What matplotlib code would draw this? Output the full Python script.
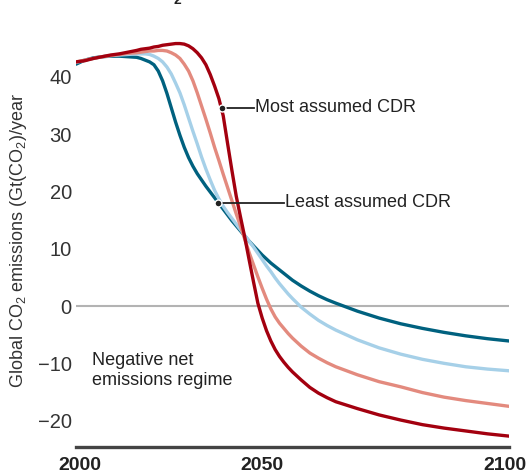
import matplotlib
matplotlib.use("Agg")
import matplotlib.pyplot as plt

plt.rcParams['font.family'] = ['Liberation Sans', 'DejaVu Sans']
plt.rcParams['mathtext.fontset'] = 'custom'
plt.rcParams['mathtext.rm'] = 'Liberation Sans'
plt.rcParams['mathtext.it'] = 'Liberation Sans:italic'

# data (Gt CO2 per year)
years = [2000, 2002, 2004, 2006, 2008, 2010, 2012, 2014,
         2015, 2016, 2017, 2018, 2019, 2020, 2021, 2022, 2023, 2024, 2025, 2026,
         2027, 2028, 2029, 2030, 2031, 2032, 2033, 2034, 2035, 2036, 2037, 2038,
         2039, 2040, 2041, 2042, 2043, 2044, 2045, 2046, 2047, 2048, 2049, 2050,
         2052, 2054, 2056, 2058, 2060, 2065, 2070, 2075, 2080, 2085, 2090, 2095, 2100]
most_cdr = [42.6, 42.8, 43.2, 43.5, 43.8, 44.0, 44.3, 44.6,
            44.8, 44.9, 45.0, 45.2, 45.3, 45.5, 45.6, 45.7, 45.8, 45.8, 45.7, 45.4,
            44.9, 44.2, 43.3, 42.1, 40.4, 38.4, 36.2, 33.2, 28.4, 23.7, 19.2, 15.5,
            11.9, 8.0, 4.2, 0.5, -2.1, -4.3, -6.1, -7.6, -8.8, -9.8, -10.7, -11.5,
            -12.9, -14.2, -15.2, -16.0, -16.7, -17.9, -19.0, -19.9, -20.7, -21.3, -21.8, -22.3, -22.7]
more_cdr = [42.6, 42.9, 43.2, 43.5, 43.7, 43.9, 44.1, 44.2,
            44.3, 44.4, 44.5, 44.5, 44.6, 44.6, 44.5, 44.2, 43.8, 43.2, 42.2, 41.0,
            39.3, 37.2, 34.9, 32.6, 30.2, 27.7, 25.4, 23.0, 20.7, 18.4, 16.1, 13.9,
            11.6, 9.3, 7.2, 5.1, 3.1, 1.2, -0.5, -1.9, -3.0, -3.9, -4.8, -5.6,
            -7.0, -8.2, -9.1, -9.9, -10.6, -12.0, -13.2, -14.1, -15.1, -15.9, -16.5, -17.0, -17.5]
less_cdr = [42.5, 42.9, 43.2, 43.5, 43.7, 43.8, 43.9, 44.0,
            44.0, 44.0, 43.9, 43.6, 43.2, 42.6, 41.7, 40.5, 38.9, 37.2, 35.1, 32.8,
            30.5, 28.3, 26.0, 23.9, 22.0, 20.2, 18.7, 17.4, 16.3, 15.3, 14.3, 13.3,
            12.3, 11.3, 10.3, 9.2, 8.1, 7.0, 6.0, 4.9, 3.9, 3.0, 2.1, 1.3,
            -0.2, -1.4, -2.5, -3.4, -4.2, -5.9, -7.3, -8.4, -9.3, -10.0, -10.6, -11.0, -11.3]
least_cdr = [42.2, 42.9, 43.3, 43.5, 43.6, 43.6, 43.5, 43.4,
             43.2, 42.9, 42.6, 42.1, 41.0, 39.3, 37.1, 34.6, 32.1, 29.8, 27.7, 25.9,
             24.4, 23.1, 22.0, 20.9, 19.9, 18.9, 17.9, 16.9, 15.9, 14.9, 14.0, 13.1,
             12.2, 11.3, 10.5, 9.7, 8.9, 8.2, 7.5, 6.9, 6.3, 5.7, 5.1, 4.5,
             3.5, 2.6, 1.8, 1.1, 0.5, -0.9, -2.1, -3.1, -3.9, -4.6, -5.2, -5.7, -6.1]
yticks = [-20, -10, 0, 10, 20, 30, 40]
xlabels = ['2000', '2050', '2100']

fig = plt.figure(figsize=(5.28, 4.75), dpi=100)
ax = fig.add_axes([76 / 528, 28 / 475, 433 / 528, 447 / 475])

ax.axhline(0, color='#b3b3b3', lw=1.5, zorder=1)
ax.plot(years, least_cdr, color='#00617f', lw=2.4, solid_capstyle='round', zorder=3)
ax.plot(years, less_cdr, color='#a6d0e8', lw=2.4, solid_capstyle='round', zorder=3)
ax.plot(years, more_cdr, color='#e38a7e', lw=2.4, solid_capstyle='round', zorder=3)
ax.plot(years, most_cdr, color='#a3000f', lw=2.4, solid_capstyle='round', zorder=4)

ax.set_xlim(2000, 2100)
ax.set_ylim(-24.6, 53.4)

for s in ['top', 'right', 'left']:
    ax.spines[s].set_visible(False)
ax.spines['bottom'].set_color('#444444')
ax.spines['bottom'].set_linewidth(2.4)

ax.set_yticks(yticks)
ax.set_yticklabels([str(v).replace('-', '\u2212') for v in yticks])
ax.tick_params(axis='y', length=0, pad=3, labelsize=14.5, labelcolor='#333333')
ax.set_xticks([2001, 2043, 2099])
ax.set_xticklabels(xlabels, fontweight='bold')
ax.tick_params(axis='x', length=0, pad=7, labelsize=14, labelcolor='#222222')

ax.set_ylabel('Global CO$_2$ emissions (Gt(CO$_2$)/year', fontsize=13, color='#333333')
ax.yaxis.set_label_coords(-47 / 433, 0.463)

# callouts
ax.plot([2033.7, 2041.0], [34.6, 34.6], color='#222222', lw=1.3, zorder=5)
ax.plot(2033.7, 34.6, 'o', ms=5, color='#222222', mec='white', mew=1, zorder=6)
ax.text(2041.3, 34.6, 'Most assumed CDR', fontsize=13, color='#222222', va='center')
ax.plot([2032.8, 2048.0], [18.0, 18.0], color='#222222', lw=1.3, zorder=5)
ax.plot(2032.8, 18.0, 'o', ms=5, color='#222222', mec='white', mew=1, zorder=6)
ax.text(2048.3, 18.0, 'Least assumed CDR', fontsize=13, color='#222222', va='center')

ax.text(2003.7, -11.2, 'Negative net\nemissions regime', fontsize=13, color='#222222',
        va='center', linespacing=1.2)

# cut-off title subscript at the top edge
fig.text(177 / 528, 1 - 4 / 475, '2', fontsize=10, fontweight='bold', color='#222222',
         ha='center', va='baseline')

fig.savefig('out.png', dpi=100)
